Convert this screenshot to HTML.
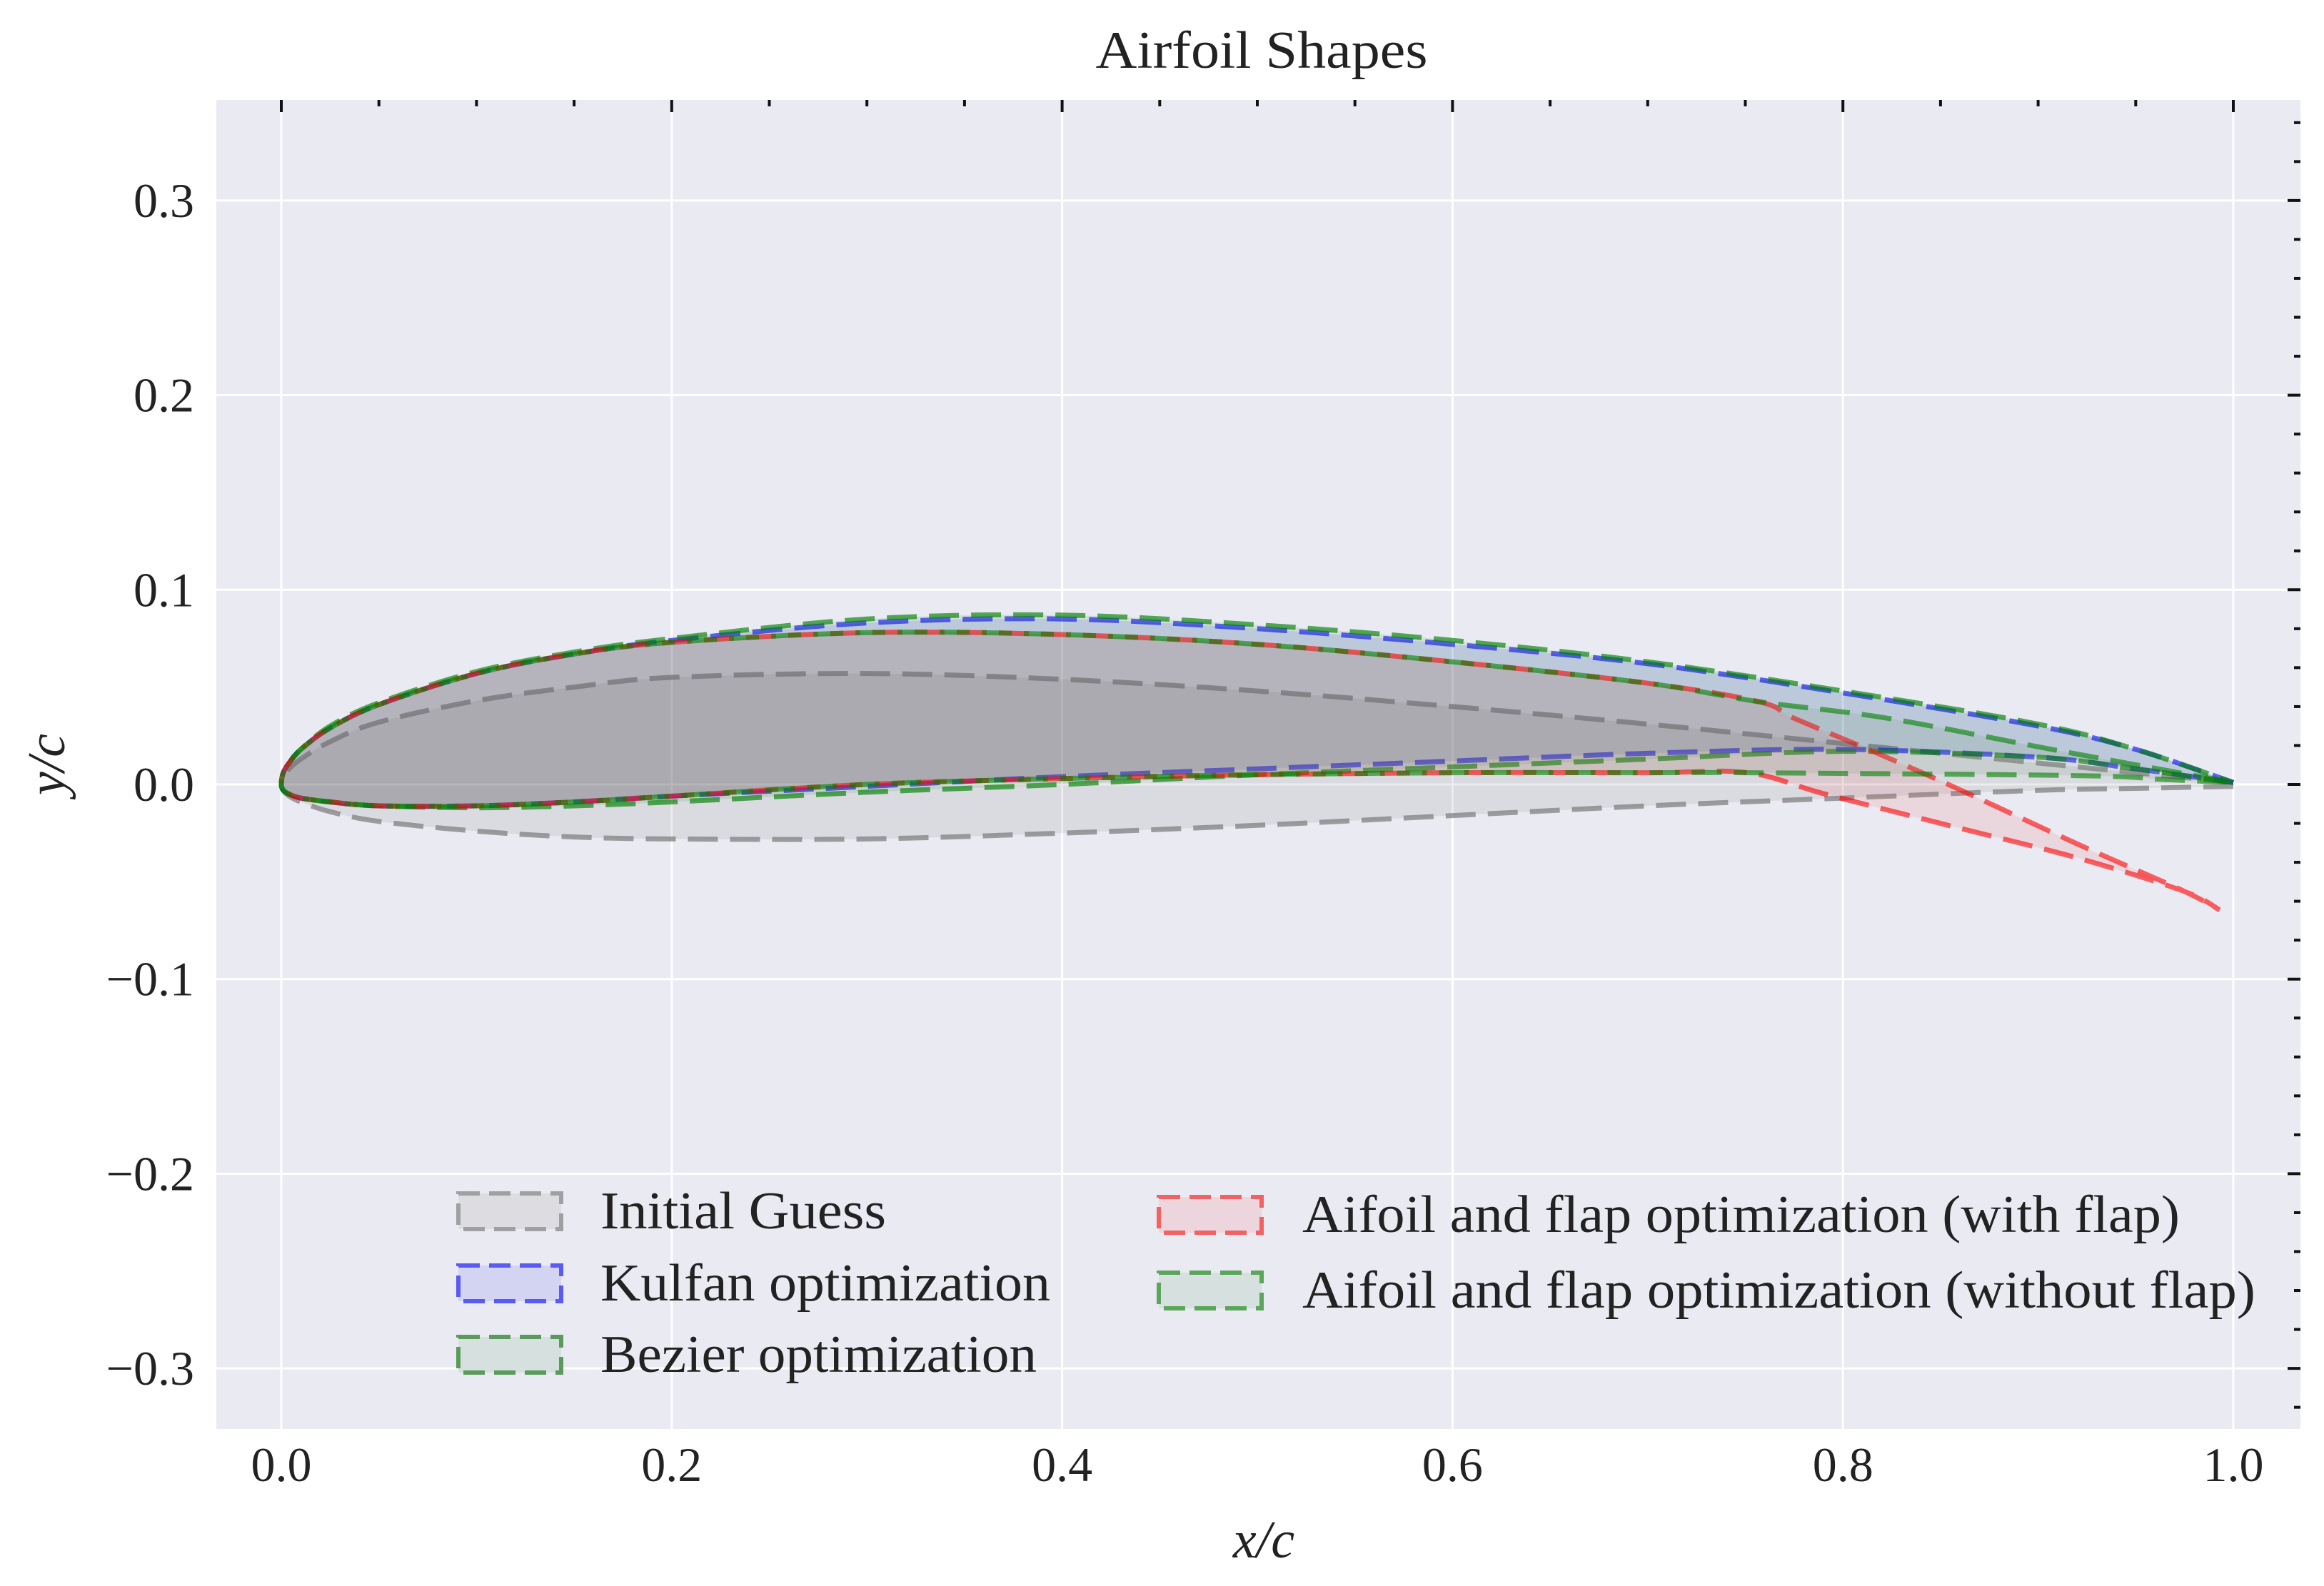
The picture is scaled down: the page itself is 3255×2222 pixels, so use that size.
<!DOCTYPE html>
<html><head><meta charset="utf-8"><style>
html,body{margin:0;padding:0;background:#fff;}
svg{display:block;}
text{font-family:"Liberation Serif",serif;fill:#222;}
</style></head><body>
<svg id="chart" width="3255" height="2222" viewBox="0 0 3255 2222" xmlns="http://www.w3.org/2000/svg">
<rect x="0" y="0" width="3255" height="2222" fill="#fff"/>
<rect id="plotbg" x="303" y="140" width="2919" height="1862" fill="#eaeaf2"/>
<g id="grid"></g>
<g id="series"></g>
<g id="ticks"></g>
<g id="labels"></g>
<g id="legend"></g>
<text x="1767" y="95" font-size="74" text-anchor="middle" textLength="465" lengthAdjust="spacingAndGlyphs">Airfoil Shapes</text>
<text x="1770" y="2182" font-size="74" font-style="italic" text-anchor="middle">x/c</text>
<text transform="translate(90,1071) rotate(-90)" font-size="74" font-style="italic" text-anchor="middle">y/c</text>
</svg>
<script>
const xTicks = [0, 0.2, 0.4, 0.6, 0.8, 1.0];
const xTickLabels = ["0.0", "0.2", "0.4", "0.6", "0.8", "1.0"];
const yTicks = [-0.3, -0.2, -0.1, 0, 0.1, 0.2, 0.3];
const yTickLabels = ["\u22120.3", "\u22120.2", "\u22120.1", "0.0", "0.1", "0.2", "0.3"];

const stdX = [0, 0.001, 0.004, 0.01, 0.025, 0.05, 0.1, 0.15, 0.2, 0.3, 0.4, 0.5, 0.6, 0.7, 0.8, 0.9, 0.95, 1.0];
const initialUpperY = [0, 0.004, 0.008, 0.013, 0.022, 0.032, 0.043, 0.050, 0.055, 0.057, 0.054, 0.048, 0.040, 0.031, 0.021, 0.011, 0.006, 0.001];
const initialLowerY = [0, -0.003, -0.006, -0.009, -0.014, -0.019, -0.024, -0.027, -0.028, -0.028, -0.025, -0.021, -0.016, -0.011, -0.007, -0.003, -0.002, -0.001];
const kulfanUpperY = [0, 0.006, 0.011, 0.018, 0.029, 0.041, 0.057, 0.067, 0.074, 0.083, 0.085, 0.080, 0.072, 0.062, 0.047, 0.030, 0.018, 0.001];
const kulfanLowerY = [0, -0.003, -0.005, -0.007, -0.009, -0.011, -0.011, -0.009, -0.006, -0.001, 0.004, 0.008, 0.012, 0.016, 0.018, 0.014, 0.008, 0.001];
const bezierUpperY = [0, 0.006, 0.011, 0.018, 0.030, 0.042, 0.058, 0.068, 0.075, 0.085, 0.087, 0.082, 0.074, 0.063, 0.048, 0.031, 0.018, 0.001];
const bezierLowerY = [0, -0.003, -0.005, -0.007, -0.009, -0.011, -0.012, -0.011, -0.009, -0.004, 0.000, 0.005, 0.009, 0.013, 0.017, 0.014, 0.008, 0.001];

const flapUpperX = [0, 0.001, 0.004, 0.01, 0.025, 0.05, 0.1, 0.15, 0.2, 0.3, 0.4, 0.5, 0.6, 0.7, 0.757, 0.775, 0.813, 0.854, 0.921, 0.973, 0.993];
const flapUpperY = [0, 0.006, 0.011, 0.018, 0.029, 0.041, 0.057, 0.067, 0.073, 0.078, 0.077, 0.072, 0.063, 0.052, 0.0425, 0.034, 0.018, 0.0, -0.031, -0.054, -0.0645];
const flapLowerX = [0, 0.001, 0.004, 0.01, 0.025, 0.05, 0.1, 0.15, 0.2, 0.3, 0.4, 0.5, 0.6, 0.7, 0.751, 0.791, 0.854, 0.921, 0.975, 0.993];
const flapLowerY = [0, -0.003, -0.005, -0.007, -0.009, -0.011, -0.011, -0.009, -0.006, 0.000, 0.003, 0.005, 0.006, 0.006, 0.006, -0.005, -0.021, -0.038, -0.055, -0.0645];

const noFlapUpperX = [0, 0.001, 0.004, 0.01, 0.025, 0.05, 0.1, 0.15, 0.2, 0.3, 0.4, 0.5, 0.6, 0.7, 0.757, 0.823, 0.907, 1.0];
const noFlapUpperY = [0, 0.006, 0.011, 0.018, 0.029, 0.041, 0.057, 0.067, 0.073, 0.078, 0.077, 0.072, 0.063, 0.052, 0.0425, 0.034, 0.018, 0.001];
const noFlapLowerX = [0, 0.001, 0.004, 0.01, 0.025, 0.05, 0.1, 0.15, 0.2, 0.3, 0.4, 0.5, 0.6, 0.7, 0.751, 0.921, 0.965, 1.0];
const noFlapLowerY = [0, -0.003, -0.005, -0.007, -0.009, -0.011, -0.011, -0.009, -0.006, 0.000, 0.003, 0.005, 0.006, 0.006, 0.006, 0.0045, 0.0025, 0.001];

const NS = "http://www.w3.org/2000/svg";
const X0 = 394, XS = 2734, Y0 = 1099, YS = 2727;
const L = 303, R = 3222, T = 140, B = 2002;
function sx(v){ return X0 + v * XS; }
function sy(v){ return Y0 - v * YS; }
function mk(tag, parent){ const e = document.createElementNS(NS, tag); parent.appendChild(e); return e; }

const grid = document.getElementById('grid');
xTicks.forEach((v) => {
  const ln = mk('line', grid);
  
  
  ln.setAttribute('x1', sx(v)); ln.setAttribute('x2', sx(v));
  ln.setAttribute('y1', T); ln.setAttribute('y2', B);
  ln.setAttribute('stroke', '#fff'); ln.setAttribute('stroke-width', 3);
});
yTicks.forEach((v) => {
  const ln = mk('line', grid);
  
  
  ln.setAttribute('x1', L); ln.setAttribute('x2', R);
  ln.setAttribute('y1', sy(v)); ln.setAttribute('y2', sy(v));
  ln.setAttribute('stroke', '#fff'); ln.setAttribute('stroke-width', 3);
});

const ticks = document.getElementById('ticks');
for (let i = -1; i <= 21; i++) {
  const v = i * 0.05;
  const px = sx(v);
  if (px < L || px > R) continue;
  const major = (i % 4 === 0);
  const tk = mk('line', ticks);
  
  
  tk.setAttribute('x1', px); tk.setAttribute('x2', px);
  tk.setAttribute('y1', T); tk.setAttribute('y2', T + (major ? 17 : 9));
  tk.setAttribute('stroke', '#111'); tk.setAttribute('stroke-width', 4);
}
for (let i = -17; i <= 18; i++) {
  const v = i * 0.02;
  const py = sy(v);
  if (py < T || py > B) continue;
  const major = (i % 5 === 0);
  const tk = mk('line', ticks);
  
  
  tk.setAttribute('x1', R); tk.setAttribute('x2', R - (major ? 18 : 9));
  tk.setAttribute('y1', py); tk.setAttribute('y2', py);
  tk.setAttribute('stroke', '#111'); tk.setAttribute('stroke-width', 4);
}

const labels = document.getElementById('labels');
xTicks.forEach((v, i) => {
  const t = mk('text', labels);
  
  
  t.setAttribute('x', sx(v)); t.setAttribute('y', 2075);
  t.setAttribute('font-size', 68); t.setAttribute('text-anchor', 'middle');
  t.textContent = xTickLabels[i];
});
yTicks.forEach((v, i) => {
  const t = mk('text', labels);
  
  
  t.setAttribute('x', 272); t.setAttribute('y', sy(v) + 23);
  t.setAttribute('font-size', 68); t.setAttribute('text-anchor', 'end');
  t.textContent = yTickLabels[i];
});

function smoothPath(pts, startCmd) {
  let d = (startCmd || 'M') + pts[0][0].toFixed(1) + ',' + pts[0][1].toFixed(1);
  for (let i = 0; i < pts.length - 1; i++) {
    const p0 = pts[Math.max(i - 1, 0)], p1 = pts[i], p2 = pts[i + 1], p3 = pts[Math.min(i + 2, pts.length - 1)];
    const c1 = [p1[0] + (p2[0] - p0[0]) / 6, p1[1] + (p2[1] - p0[1]) / 6];
    const c2 = [p2[0] - (p3[0] - p1[0]) / 6, p2[1] - (p3[1] - p1[1]) / 6];
    d += ' C' + c1[0].toFixed(1) + ',' + c1[1].toFixed(1) + ' ' + c2[0].toFixed(1) + ',' + c2[1].toFixed(1) + ' ' + p2[0].toFixed(1) + ',' + p2[1].toFixed(1);
  }
  return d;
}
function outline(ux, uy, lx, ly) {
  const up = ux.map((x, i) => [sx(x), sy(uy[i])]).reverse();
  const lo = lx.map((x, i) => [sx(x), sy(ly[i])]);
  const pts = up.concat(lo.slice(1));
  return smoothPath(pts);
}

const seriesG = document.getElementById('series');
const seriesDefs = [
  { name: 'initial-guess', ux: stdX, uy: initialUpperY, lx: stdX, ly: initialLowerY, fill: 'rgba(128,128,128,0.15)', stroke: 'rgba(128,128,128,0.75)' },
  { name: 'kulfan-optimization', ux: stdX, uy: kulfanUpperY, lx: stdX, ly: kulfanLowerY, fill: 'rgba(0,0,255,0.10)', stroke: 'rgba(0,0,255,0.6)' },
  { name: 'bezier-optimization', ux: stdX, uy: bezierUpperY, lx: stdX, ly: bezierLowerY, fill: 'rgba(0,128,0,0.10)', stroke: 'rgba(0,128,0,0.65)' },
  { name: 'flap-optimization-with-flap', ux: flapUpperX, uy: flapUpperY, lx: flapLowerX, ly: flapLowerY, fill: 'rgba(240,80,80,0.12)', stroke: 'rgba(255,0,0,0.6)' },
  { name: 'flap-optimization-without-flap', ux: noFlapUpperX, uy: noFlapUpperY, lx: noFlapLowerX, ly: noFlapLowerY, fill: 'rgba(110,140,110,0.15)', stroke: 'rgba(0,128,0,0.6)' }
];
seriesDefs.forEach((s, k) => {
  const d = outline(s.ux, s.uy, s.lx, s.ly);
  const f = mk('path', seriesG);
  
  
  f.setAttribute('d', d + ' Z'); f.setAttribute('fill', s.fill); f.setAttribute('stroke', 'none');
  const ln = mk('path', seriesG);
  
  
  ln.setAttribute('d', d); ln.setAttribute('fill', 'none');
  ln.setAttribute('stroke', s.stroke); ln.setAttribute('stroke-width', 7);
  ln.setAttribute('stroke-dasharray', '42 17');
  ln.setAttribute('stroke-dashoffset', k * 11);
});

const legend = document.getElementById('legend');
const legendLabels = ["Initial Guess", "Kulfan optimization", "Bezier optimization", "Aifoil and flap optimization (with flap)", "Aifoil and flap optimization (without flap)"];
const legendWidths = [400, 630, 611, 1229, 1335];
const legendFills = ['#dcdce1', '#d3d4f1', '#d5e0df', '#ecd5dc', '#d5e0df'];
const legendStrokes = ['#a0a0a4', '#5a5af5', '#5a9a5a', '#f26262', '#5aa65a'];
const legendPos = [[639, 1697], [639, 1798], [639, 1898], [1620, 1702], [1620, 1808]];
legendLabels.forEach((lab, i) => {
  const [px, cy] = legendPos[i];
  const r = mk('rect', legend);
  
  
  r.setAttribute('x', px + 3); r.setAttribute('y', cy - 25);
  r.setAttribute('width', 144); r.setAttribute('height', 50);
  r.setAttribute('fill', legendFills[i]); r.setAttribute('stroke', legendStrokes[i]);
  r.setAttribute('stroke-width', 6); r.setAttribute('stroke-dasharray', '30 13');
  const t = mk('text', legend);
  
  
  t.setAttribute('x', px + (i < 3 ? 202 : 204)); t.setAttribute('y', cy + 24);
  t.setAttribute('font-size', 74);
  t.setAttribute('textLength', legendWidths[i]);
  t.setAttribute('lengthAdjust', 'spacingAndGlyphs');
  t.textContent = lab;
});
</script>
</body></html>
